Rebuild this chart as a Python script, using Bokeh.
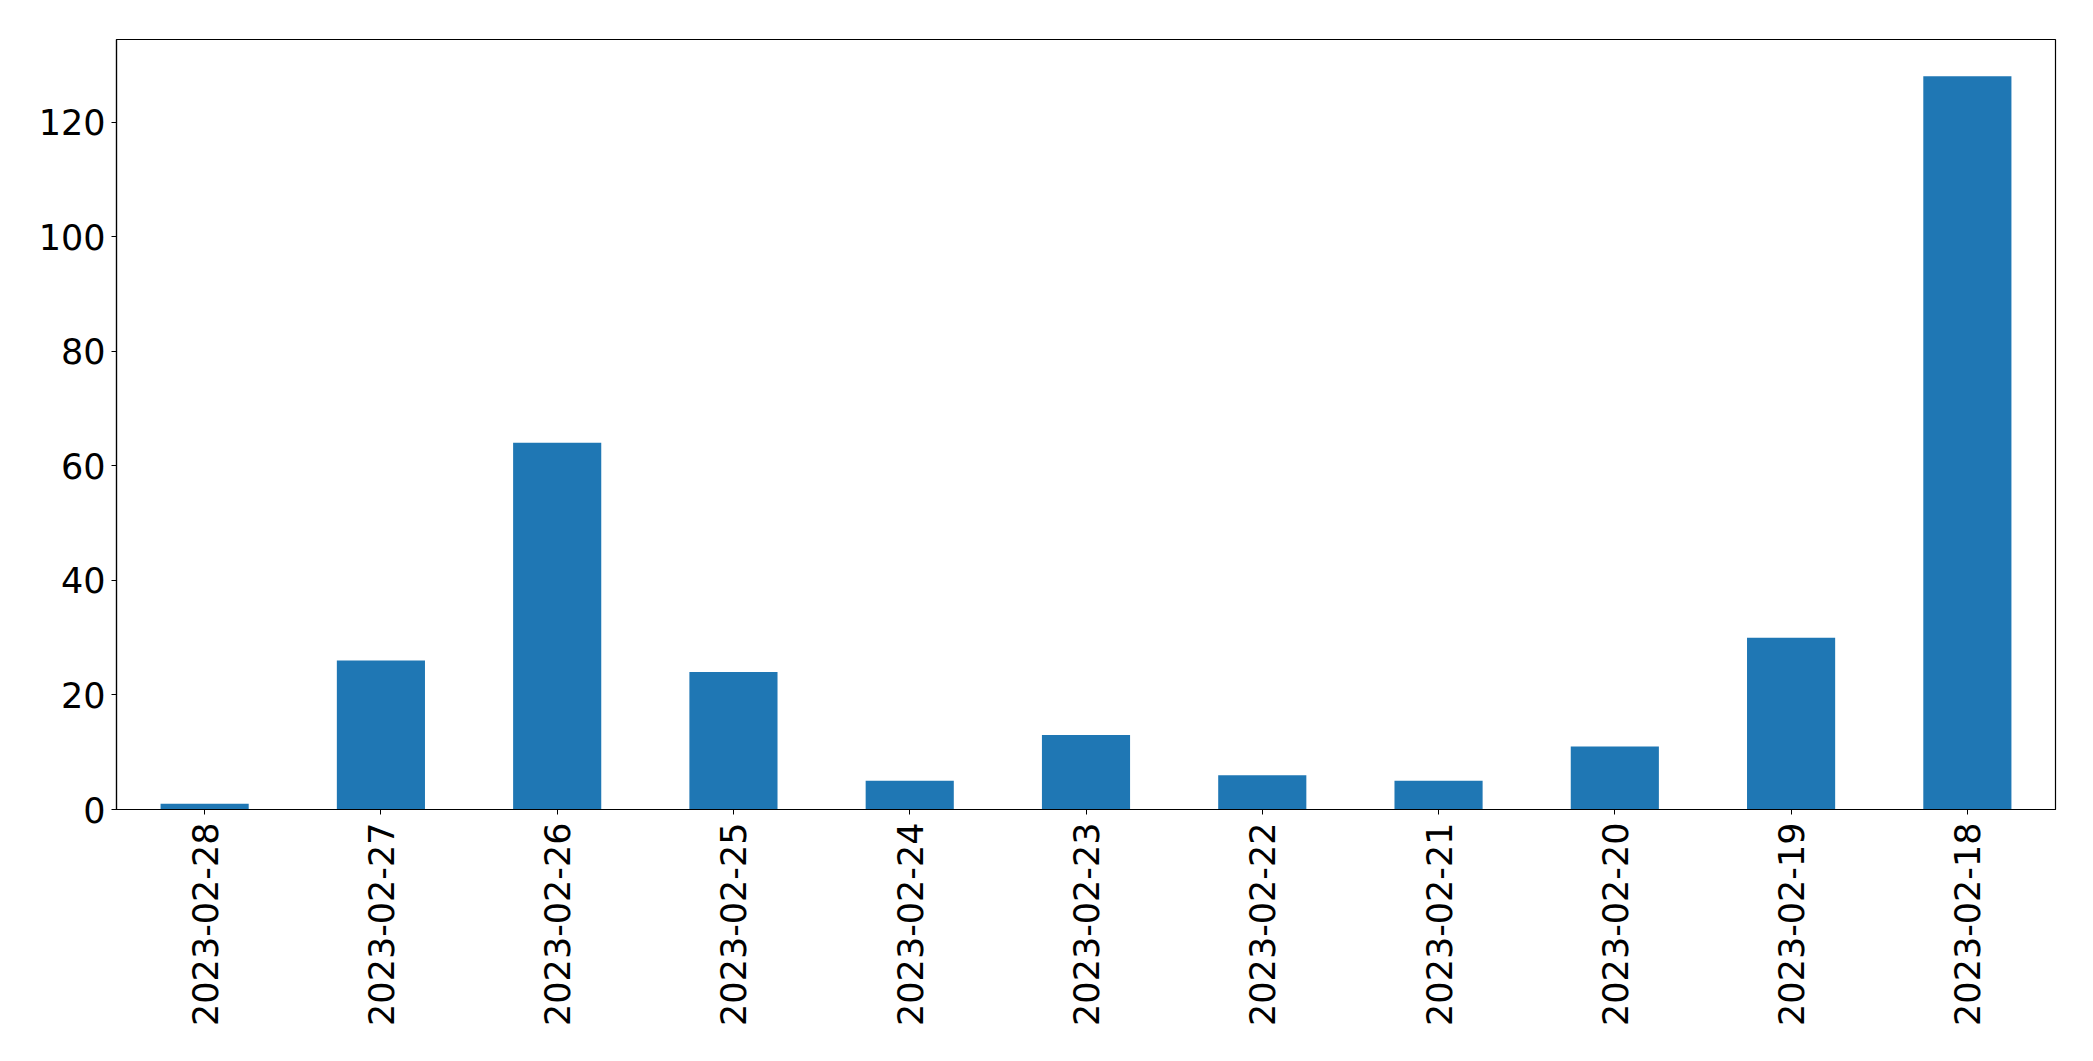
import math
from bokeh.plotting import figure
from bokeh.models import FactorRange, Range1d, FixedTicker, ColumnDataSource
from bokeh.embed import file_html
from bokeh.resources import INLINE

dates = ["2023-02-28", "2023-02-27", "2023-02-26", "2023-02-25", "2023-02-24",
         "2023-02-23", "2023-02-22", "2023-02-21", "2023-02-20", "2023-02-19",
         "2023-02-18"]
counts = [1, 26, 64, 24, 5, 13, 6, 5, 11, 30, 128]
y_ticks = [0, 20, 40, 60, 80, 100, 120]

src = ColumnDataSource(dict(x=dates, top=counts))

p = figure(x_range=FactorRange(*dates, range_padding=0),
           y_range=Range1d(0, max(counts) * 1.05),
           width=2077, height=1045, output_backend="svg", toolbar_location=None,
           min_border_left=116, min_border_top=39, min_border_right=22,
           min_border_bottom=236)
p.vbar(x="x", top="top", width=0.5, source=src, color="#1f77b4", line_color=None)

p.xgrid.grid_line_color = None
p.ygrid.grid_line_color = None
p.outline_line_color = "black"
p.outline_line_width = 1.2
p.background_fill_color = "white"
p.border_fill_color = "white"

p.yaxis.ticker = FixedTicker(ticks=y_ticks)
p.yaxis.minor_tick_line_color = None
for ax in (p.xaxis, p.yaxis):
    ax.major_label_text_font = "DejaVu Sans"
    ax.major_label_text_font_size = "35px"
    ax.major_label_text_color = "black"
    ax.axis_line_color = "black"
    ax.axis_line_width = 1.2
    ax.major_tick_line_color = "black"
    ax.major_tick_out = 5
    ax.major_tick_in = 0
p.yaxis.major_label_standoff = 6
p.xaxis.major_label_standoff = 8
p.xaxis.major_label_orientation = math.pi / 2

open("out.html", "w").write(file_html(p, INLINE))
